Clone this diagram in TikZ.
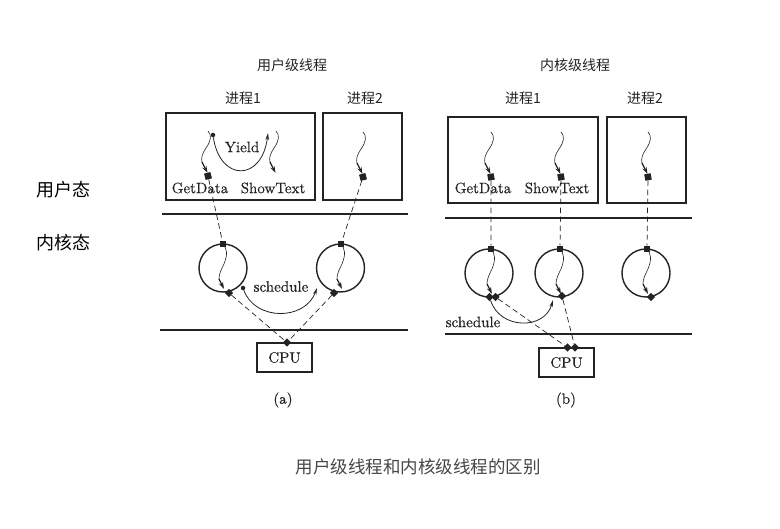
\documentclass[tikz,border=0pt]{standalone}
\usepackage{fontspec}
\setmainfont{lmroman10-regular.otf}[FakeBold=0.4]
\newfontfamily\cjk{Noto Sans CJK SC}
\usetikzlibrary{arrows.meta}
\definecolor{ink}{RGB}{35,35,35}
\definecolor{capgray}{RGB}{70,70,70}
\tikzset{
  box/.style={rectangle, draw=ink, line width=1.4pt, inner sep=0},
  sep/.style={draw=ink, line width=1.1pt},
  ring/.style={circle, draw=ink, line width=1.4pt, minimum size=48pt, inner sep=0},
  sq/.style={rectangle, fill=ink, minimum size=6.5pt, inner sep=0},
  dq/.style={sq, rotate=45, minimum size=6pt},
  lbl/.style={font=\fontsize{15}{18}\selectfont, text=ink, inner sep=0},
  zh/.style={font=\cjk\fontsize{14}{16}\selectfont, text=ink, inner sep=0},
  link/.style={draw=ink, line width=0.7pt, dash pattern=on 5.5pt off 3.5pt},
  curl/.style={draw=ink, line width=0.6pt},
  dart/.style={draw=ink, line width=1.2pt, -{Stealth[length=7pt,width=4.5pt]}},
  sched/.style={draw=ink, line width=0.8pt, -{Stealth[length=7pt,width=3.5pt]}},
  blob/.style={circle, fill=ink, minimum size=4.5pt, inner sep=0},
  thr/.pic={
    \draw[curl] (0,-45) .. controls (4,-41) and (3,-35) .. (-2,-28)
                .. controls (-6,-22) and (-7,-18) .. (-6,-14);
    \draw[dart] (-6,-14) -- (-0.5,-3);
  },
  cthr/.pic={
    \draw[curl] (0,0) .. controls (4,5) and (5,10) .. (1,20)
                .. controls (-2,26) and (-4,30) .. (-4,35);
    \draw[dart] (-4,35) -- (1,45);
  }
}
\begin{document}
\begin{tikzpicture}[x=1pt,y=-1pt]
\useasboundingbox (0,0) rectangle (780,529);

% side labels
\node[zh, font=\cjk\fontsize{18}{20}\selectfont, text=black] (uk) at (63,190) {用户态};
\node[zh, font=\cjk\fontsize{18}{20}\selectfont, text=black] (kk) at (63,243) {内核态};

% ================= (a) user-level threads =================
\node[zh] (ta) at (292,65) {用户级线程};
\node[zh] (pa1l) at (243,98) {进程1};
\node[zh] (pa2l) at (365,98) {进程2};
\node[box, minimum width=149pt, minimum height=87pt] (pa1) at (240.5,156.5) {};
\node[box, minimum width=79pt, minimum height=87pt] (pa2) at (362.5,156.5) {};
\draw[sep] (162,214) -- (408,214);
\draw[sep] (160,330) -- (408,330);

% threads in processes
\pic at (208,176) {thr};
\pic at (276,176) {thr};
\pic at (363,177) {thr};
\node[sq, rotate=15] (sqa1) at (208,176) {};
\node[sq, rotate=15] (sqa2) at (363,177) {};
\node[lbl] (gda) at (200,188) {GetData};
\node[lbl] (sta) at (273,188) {ShowText};

% yield
\node[blob] (yd) at (213,135) {};
\coordinate (ye) at (268,133);
\draw[sched] (yd) .. controls (220,182) and (262,182) .. (ye);
\node[lbl] (yl) at (242,147) {Yield};

% kernel circles
\node[ring] (ca1) at (223,268) {};
\node[ring] (ca2) at (340.5,268) {};
\pic at (223,244) {cthr};
\pic at (341,244) {cthr};
\node[sq] (ta1) at (223,244) {};
\node[sq] (ta2) at (341,244) {};
\node[dq] (ba1) at (229,293) {};
\node[dq] (ba2) at (334,293) {};

% schedule
\node[blob] (sda) at (243,288) {};
\coordinate (sea) at (317,288);
\draw[sched] (sda) .. controls (255,321) and (305,321) .. (sea);
\node[lbl] (sla) at (281,286.5) {schedule};

% CPU
\node[box, minimum width=55pt, minimum height=29pt, lbl, line width=1.4pt] (cpua) at (284.5,357.5) {CPU};
\node[dq] (cpa) at (287,342.5) {};

% dashed links
\draw[link] (sqa1) -- (ta1);
\draw[link] (sqa2) -- (ta2);
\draw[link] (ba1) -- (cpa);
\draw[link] (ba2) -- (cpa);

\node[lbl] (laba) at (283,400) {(a)};

% ================= (b) kernel-level threads =================
\node[zh] (tb) at (575,65) {内核级线程};
\node[zh] (pb1l) at (523,98) {进程1};
\node[zh] (pb2l) at (645,98) {进程2};
\node[box, minimum width=150pt, minimum height=86pt] (pb1) at (523,160) {};
\node[box, minimum width=79pt, minimum height=86pt] (pb2) at (646.5,160) {};
\draw[sep] (445,218) -- (692,218);
\draw[sep] (445,334) -- (692,334);

\pic at (491,177) {thr};
\pic at (561,177) {thr};
\pic at (648,177) {thr};
\node[sq, rotate=10] (sqb1) at (491,177) {};
\node[sq, rotate=10] (sqb2) at (561,177) {};
\node[sq, rotate=10] (sqb3) at (648,177) {};
\node[lbl] (gdb) at (483,188) {GetData};
\node[lbl] (stb) at (557,188) {ShowText};

\node[ring] (cb1) at (489,273) {};
\node[ring] (cb2) at (559,273) {};
\node[ring] (cb3) at (646,273) {};
\pic at (491,249) {cthr};
\pic at (560,249) {cthr};
\pic at (647,249) {cthr};
\node[sq] (tb1) at (491,249) {};
\node[sq] (tb2) at (560,249) {};
\node[sq] (tb3) at (647,249) {};
\node[dq] (bb1a) at (489.5,297) {};
\node[dq] (bb1b) at (495.5,297) {};
\node[dq] (bb2) at (562,296) {};
\node[dq] (bb3) at (651,297) {};

\node[box, minimum width=55pt, minimum height=29pt, lbl, line width=1.4pt] (cpub) at (566.5,362.5) {CPU};
\node[dq] (cpb1) at (567.5,347.5) {};
\node[dq] (cpb2) at (575,347.5) {};

\draw[link] (sqb1) -- (tb1);
\draw[link] (sqb2) -- (tb2);
\draw[link] (sqb3) -- (tb3);
\draw[link] (bb1b) -- (cpb1);
\draw[link] (bb2) -- (cpb2);

\coordinate (seb) at (553,300);
\draw[sched] (bb1a) .. controls (500,330) and (545,330) .. (seb);
\node[lbl] (slb) at (473,322) {schedule};

\node[lbl] (labb) at (566,400) {(b)};

% caption
\node[zh, font=\cjk\fontsize{17.5}{19}\selectfont, text=capgray] (cap) at (418,467) {用户级线程和内核级线程的区别};
\end{tikzpicture}
\end{document}
